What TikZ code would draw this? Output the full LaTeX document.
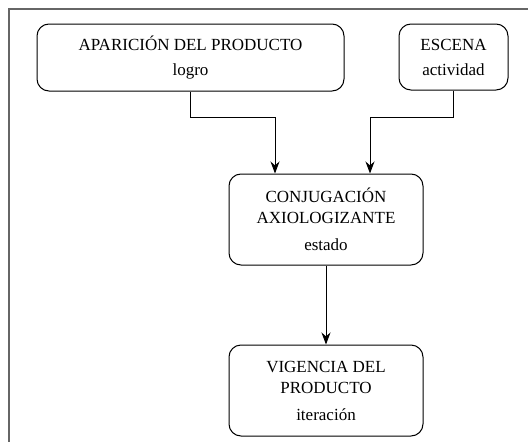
\documentclass[tikz,border=0pt]{standalone}
\usepackage{fontspec}
\setmainfont{Liberation Serif}
\usepackage{tikz}
\usetikzlibrary{arrows.meta,positioning,calc}

\tikzset{
  caja/.style={draw, rounded corners=12pt, line width=1pt, align=center,
    inner sep=0pt, font=\fontsize{17}{21}\selectfont},
  flecha/.style={-{Stealth[length=12pt,width=9pt]}, line width=1pt}
}

\begin{document}
\begin{tikzpicture}[x=1pt, y=1pt, >=Stealth]
  \useasboundingbox (0,0) rectangle (528,-442);

  % Frame
  \draw[gray!80!black, line width=1.3pt] (9,-442) -- (9,-9) -- (528,-9);

  % Define nodes
  \node[caja, minimum width=307pt, minimum height=67pt] (aparicion) at (190.5,-57.5)
    {APARICIÓN DEL PRODUCTO\\[4pt]logro};
  \node[caja, minimum width=109pt, minimum height=66pt] (escena) at (453.5,-57)
    {ESCENA\\[4pt]actividad};
  \node[caja, minimum width=194pt, minimum height=91pt] (conjugacion) at (326,-219.5)
    {CONJUGACIÓN\\AXIOLOGIZANTE\\[6pt]estado};
  \node[caja, minimum width=194pt, minimum height=91pt] (vigencia) at (326,-390.5)
    {VIGENCIA DEL\\PRODUCTO\\[6pt]iteración};

  % Bends
  \coordinate (b1) at (275,-117);
  \coordinate (b2) at (370,-117);

  % Draw arrows
  \draw[flecha] (aparicion.south) |- (b1) -- (b1 |- conjugacion.north);
  \draw[flecha] (escena.south) |- (b2) -- (b2 |- conjugacion.north);
  \draw[flecha] (conjugacion.south) -- (vigencia.north);
\end{tikzpicture}
\end{document}
